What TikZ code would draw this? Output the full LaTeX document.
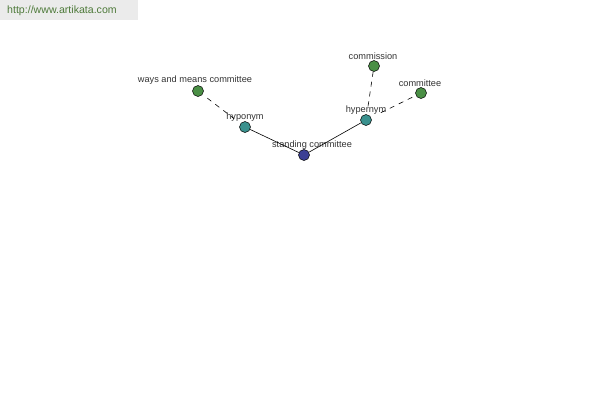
\documentclass[tikz,border=0pt]{standalone}
\usepackage{fontspec}
\setmainfont{Liberation Sans}
\definecolor{leafc}{HTML}{4A8F45}
\definecolor{relc}{HTML}{3A918E}
\definecolor{rootc}{HTML}{3B3F94}
\definecolor{urlc}{HTML}{4E7A3A}
\definecolor{lblc}{HTML}{333333}
\begin{document}
\begin{tikzpicture}[x=1pt,y=-1pt,
  dot/.style={circle,draw=black,line width=0.5pt,minimum size=11pt,inner sep=0pt},
  leaf/.style={dot,fill=leafc},
  rel/.style={dot,fill=relc},
  root/.style={dot,fill=rootc},
  lbl/.style={font=\fontsize{9.2}{10}\selectfont,text=lblc,inner sep=0pt},
  solidedge/.style={line width=0.6pt},
  dashedge/.style={line width=0.6pt,dashed,dash pattern=on 5pt off 5pt}]
\useasboundingbox (0,0) rectangle (600,400);
\fill[black!8] (0,0) rectangle (138,20);
\node[font=\fontsize{10.6}{12}\selectfont,text=urlc,anchor=west,inner sep=0pt] (url) at (7,11) {http://www.artikata.com};
\node[root] (sc) at (304,155) {};
\node[rel] (hypo) at (245,127) {};
\node[leaf] (wm) at (198,91) {};
\node[rel] (hyper) at (366,120) {};
\node[leaf] (com) at (374,66) {};
\node[leaf] (cte) at (421,93) {};
\node[lbl] (sclbl) at (312,145) {standing committee};
\node[lbl] (hypolbl) at (245,117) {hyponym};
\node[lbl] (wmlbl) at (195,80) {ways and means committee};
\node[lbl] (hyperlbl) at (366,110) {hypernym};
\node[lbl] (comlbl) at (373,56) {commission};
\node[lbl] (ctelbl) at (420,83) {committee};
\draw[solidedge] (sc) -- (hypo);
\draw[solidedge] (sc) -- (hyper);
\draw[dashedge,shorten >=8pt,shorten <=6pt] (wm) -- (hypo);
\draw[dashedge,shorten >=6pt] (com) -- (hyper);
\draw[dashedge,shorten >=8pt,shorten <=4pt] (cte) -- (hyper);
\end{tikzpicture}
\end{document}
